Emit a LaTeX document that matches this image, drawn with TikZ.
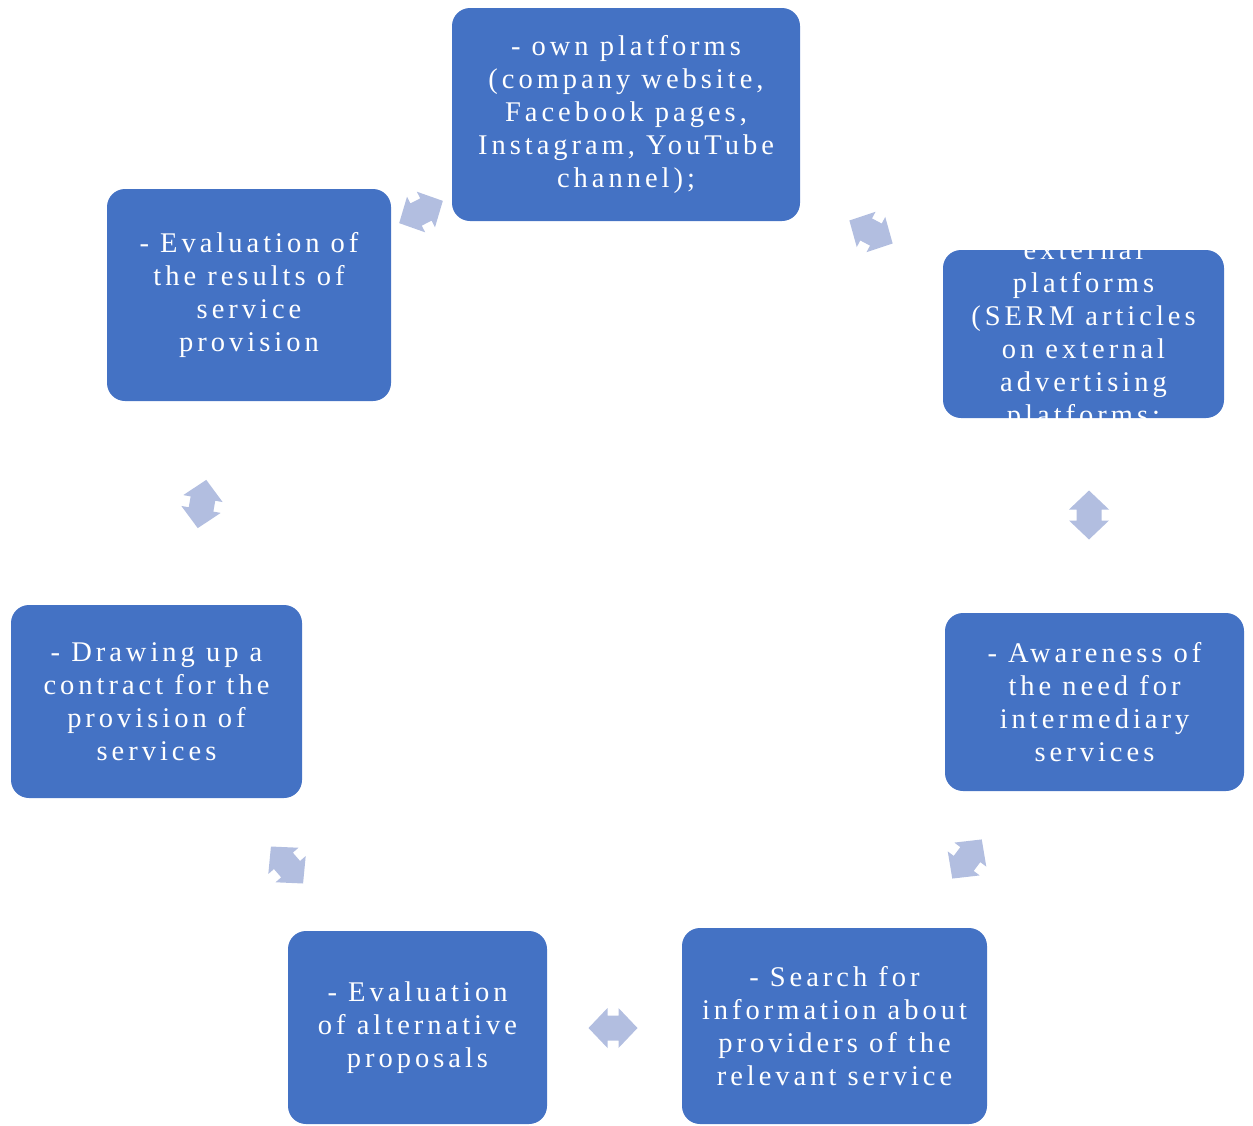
\documentclass[tikz,border=0pt]{standalone}
\usepackage{fontspec}
\newfontfamily\stagefont[LetterSpace=14]{Liberation Serif}
\definecolor{boxblue}{RGB}{68,114,196}
\definecolor{arrowblue}{RGB}{178,190,224}
\tikzset{
	stagebox/.style={fill=boxblue, rounded corners=18pt, text=white, align=center,
		font=\stagefont\fontsize{28.5pt}{33pt}\selectfont},
	stagetext/.style={text=white, align=center, font=\stagefont\fontsize{28.5pt}{33pt}\selectfont},
	pics/cyclearrow/.style={code={
		\fill [arrowblue] (-24.5,0) -- (-5.5,20) -- (-5.5,12.5) -- (5.5,12.5) -- (5.5,20) -- (24.5,0)
			-- (5.5,-20) -- (5.5,-12.5) -- (-5.5,-12.5) -- (-5.5,-20) -- cycle;
	}}
}
\begin{document}
\begin{tikzpicture}[x=1pt,y=1pt]
	\tikzstyle{every node}+=[inner sep=0pt]
	\useasboundingbox (0,0) rectangle (1253,-1125);
	\node [stagebox, minimum width=348, minimum height=213] (own) at (626,-114.5) {- own platforms\\(company website,\\Facebook pages,\\Instagram, YouTube\\channel);};
	\node [stagebox, minimum width=281, minimum height=168] (ext) at (1083.5,-334) {};
	\begin{scope}
		\clip (943,-244) rectangle (1224,-418);
		\node [stagetext] (exttext) at ([yshift=-1pt]ext.center) {external\\platforms\\(SERM articles\\on external\\advertising\\platforms;};
	\end{scope}
	\node [stagebox, minimum width=299, minimum height=178] (aware) at (1094.5,-702) {- Awareness of\\the need for\\intermediary\\services};
	\node [stagebox, minimum width=305, minimum height=196] (search) at (834.5,-1026) {- Search for\\information about\\providers of the\\relevant service};
	\node [stagebox, minimum width=259, minimum height=193] (alt) at (417.5,-1027.5) {- Evaluation\\of alternative\\proposals};
	\node [stagebox, minimum width=291, minimum height=193] (contract) at (156.5,-701.5) {- Drawing up a\\contract for the\\provision of\\services};
	\node [stagebox, minimum width=284, minimum height=212] (results) at (249,-295) {- Evaluation of\\the results of\\service\\provision};
	\pic [rotate=27] (arrowa) at (421,-212) {cyclearrow};
	\pic [rotate=-28] (arrowb) at (871,-232) {cyclearrow};
	\pic [rotate=90] (arrowc) at (1089,-515) {cyclearrow};
	\pic [rotate=53] (arrowd) at (967,-859) {cyclearrow};
	\pic [rotate=0] (arrowe) at (613,-1028) {cyclearrow};
	\pic [rotate=-49] (arrowf) at (287,-865) {cyclearrow};
	\pic [rotate=80] (arrowg) at (202,-504) {cyclearrow};
\end{tikzpicture}
\end{document}
